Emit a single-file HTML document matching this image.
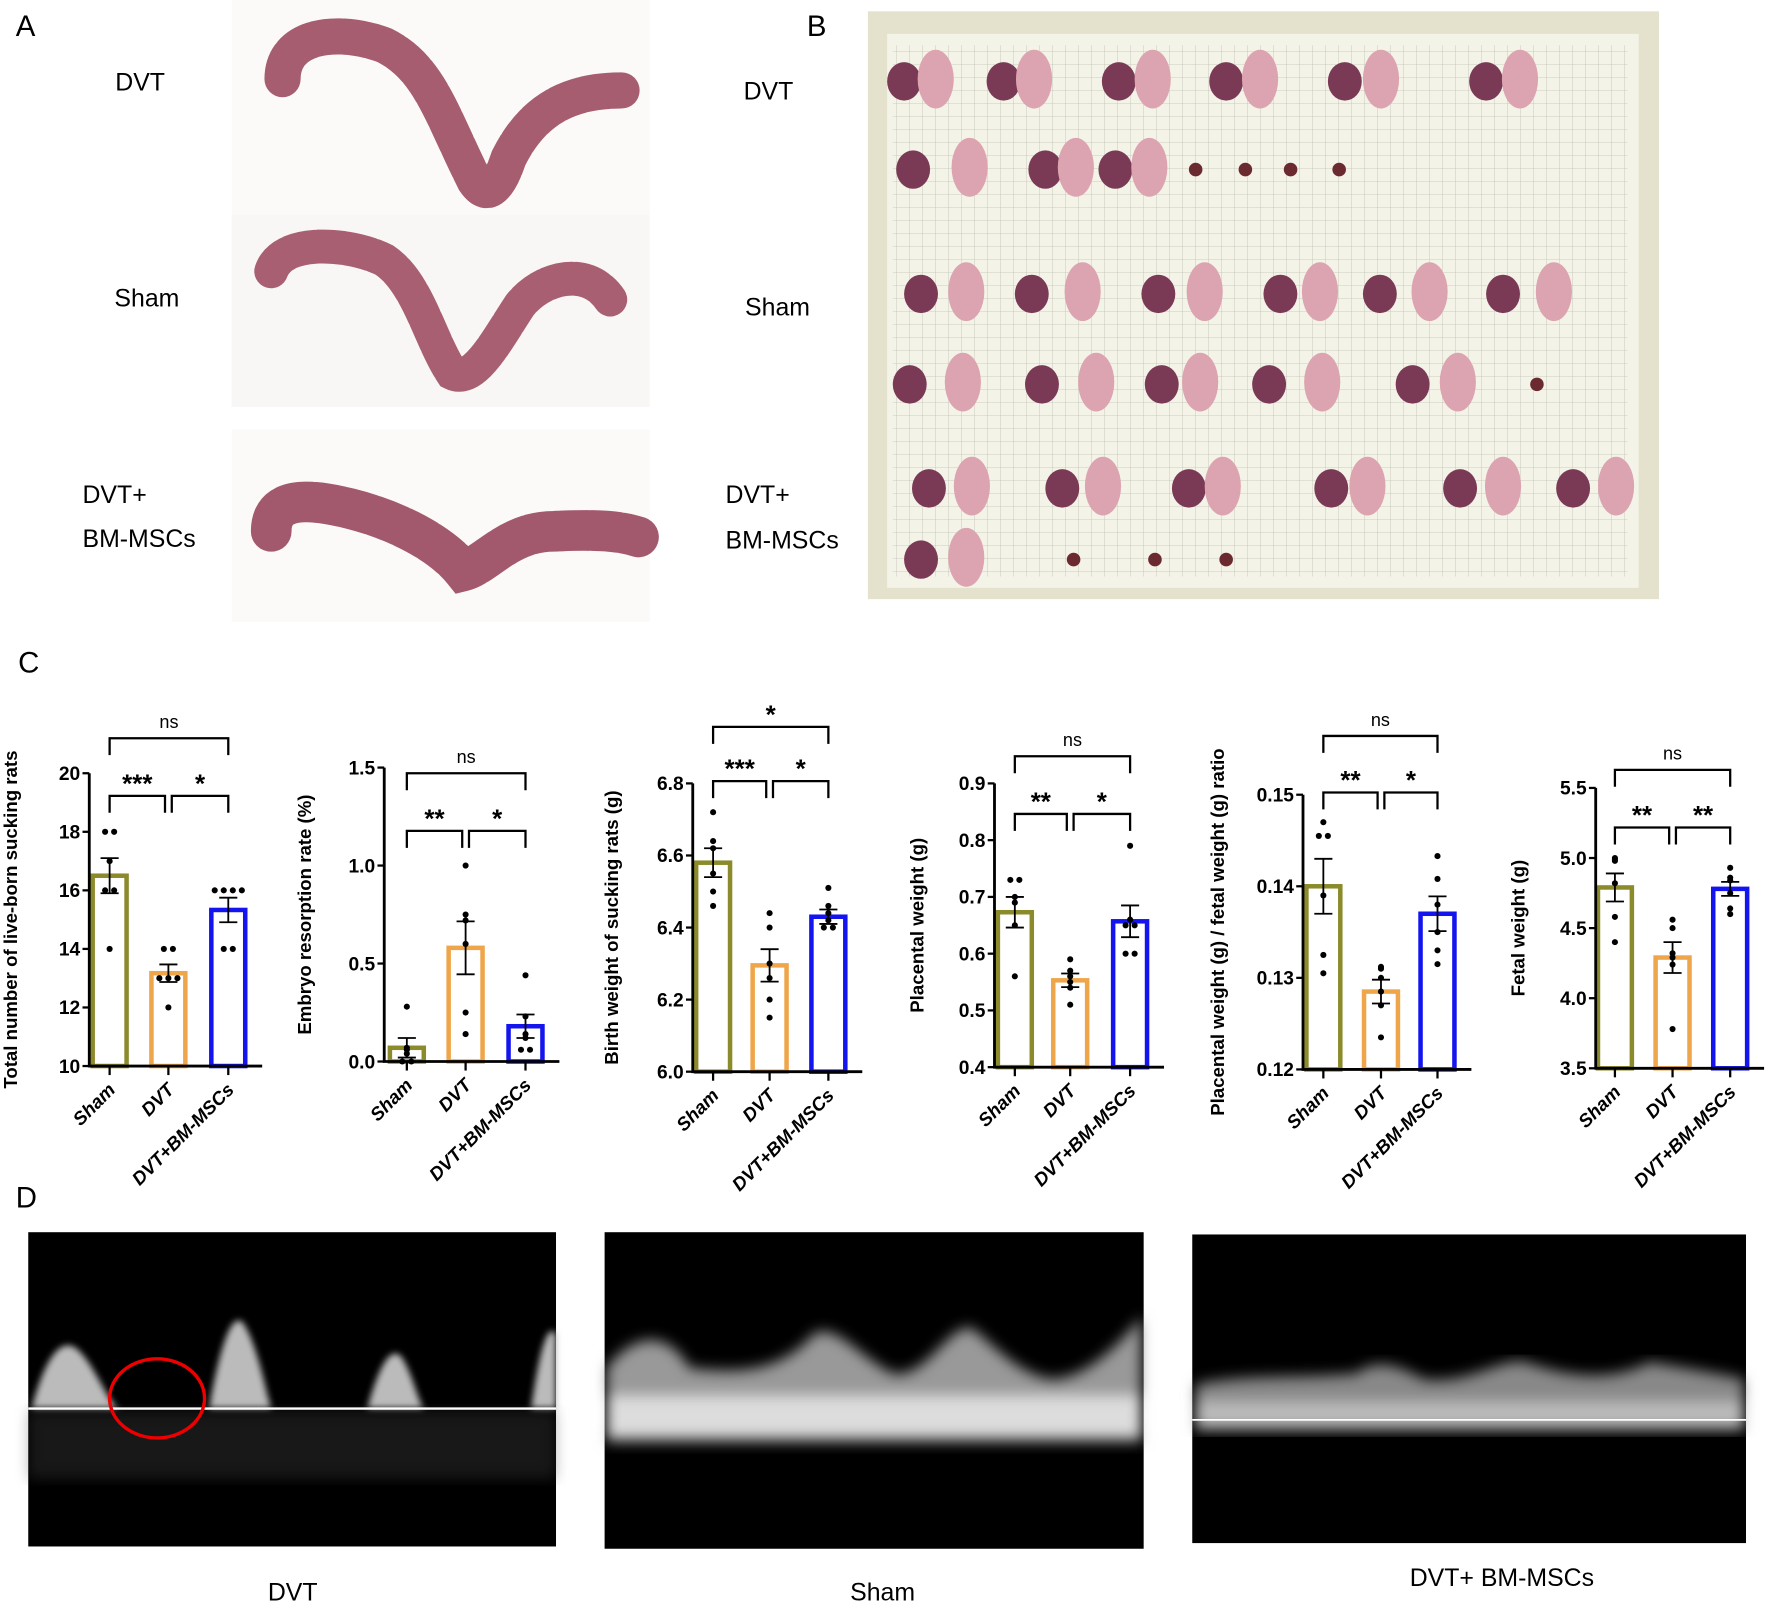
<!DOCTYPE html>
<html><head><meta charset="utf-8">
<style>
html,body{margin:0;padding:0;background:#fff;}
svg{display:block;}
text{font-family:"Liberation Sans",Arial,sans-serif;}
</style></head>
<body>
<svg id="fig" width="1772" height="1603" viewBox="0 0 1568 1418" preserveAspectRatio="none" xmlns="http://www.w3.org/2000/svg">
<defs>
<filter id="blur3"><feGaussianBlur stdDeviation="3"/></filter>
<filter id="blur6"><feGaussianBlur stdDeviation="6"/></filter>
<pattern id="grid" width="11.5" height="11.5" patternUnits="userSpaceOnUse"><path d="M11.5 0V11.5H0" fill="none" stroke="#9a9a90" stroke-width="0.7"/></pattern>
</defs>

<text x="14" y="32" font-size="26">A</text>
<text x="714" y="32" font-size="26">B</text>
<text x="16" y="595" font-size="26">C</text>
<text x="14" y="1068" font-size="26">D</text>

<g>
<rect x="205" y="0" width="370" height="190" fill="#fbfaf9"/>
<rect x="205" y="190" width="370" height="170" fill="#f8f7f6"/>
<rect x="205" y="380" width="370" height="170" fill="#fbfaf9"/>
<path d="M250 70 C250 30 300 25 340 40 C380 60 390 100 420 160 C430 175 440 170 450 140 C470 100 500 80 550 80" fill="none" stroke="#a65d70" stroke-width="32" stroke-linecap="round" stroke-dasharray="22 3"/>
<path d="M240 240 C250 210 310 215 340 230 C370 250 380 300 400 330 C420 340 440 300 460 270 C480 245 520 235 540 265" fill="none" stroke="#a95f72" stroke-width="30" stroke-linecap="round" stroke-dasharray="22 3"/>
<path d="M240 470 C240 440 270 440 310 450 C350 460 390 480 410 505 C430 500 450 470 490 470 C530 468 550 470 565 475" fill="none" stroke="#a3596d" stroke-width="36" stroke-linecap="round" stroke-dasharray="24 3"/>
</g>
<text x="124" y="80" font-size="22" text-anchor="middle">DVT</text>
<text x="130" y="271" font-size="22" text-anchor="middle">Sham</text>
<text x="73" y="445" font-size="22">DVT+</text>
<text x="73" y="484" font-size="22">BM-MSCs</text>

<g>
<rect x="768" y="10" width="700" height="520" fill="#e4e2cc"/>
<rect x="785" y="30" width="665" height="490" fill="#f4f3e8"/>
<rect x="790" y="40" width="650" height="470" fill="url(#grid)" opacity="0.6"/>
<g id="blobs"></g>
</g>
<text x="680" y="88" font-size="22" text-anchor="middle">DVT</text>
<text x="688" y="279" font-size="22" text-anchor="middle">Sham</text>
<text x="642" y="445" font-size="22">DVT+</text>
<text x="642" y="485" font-size="22">BM-MSCs</text>

<g id="charts"></g>

<g>
<rect x="25" y="1090" width="467" height="278" fill="#000"/>
<g filter="url(#blur3)" fill="#bbb">
<path d="M28 1246 C40 1200 55 1180 70 1195 C85 1210 95 1240 105 1246Z"/>
<path d="M185 1246 C195 1190 205 1160 215 1170 C228 1190 235 1230 240 1246Z"/>
<path d="M325 1246 C335 1210 345 1190 355 1200 C365 1215 370 1240 375 1246Z"/>
<path d="M470 1246 C478 1190 485 1170 492 1180 L492 1246Z"/>
</g>
<rect x="25" y="1248" width="467" height="60" fill="#444" opacity="0.35" filter="url(#blur6)"/>
<line x1="25" y1="1246" x2="492" y2="1246" stroke="#fff" stroke-width="2"/>
<ellipse cx="139" cy="1237" rx="42" ry="35" fill="none" stroke="#e00" stroke-width="3"/>
<rect x="535" y="1090" width="477" height="280" fill="#000"/>
<g filter="url(#blur6)">
<path d="M537 1275 L537 1210 C560 1180 590 1175 610 1210 C650 1215 690 1215 720 1180 C740 1170 760 1200 790 1215 C820 1220 840 1170 860 1175 C880 1190 900 1215 930 1220 C960 1220 990 1190 1010 1165 L1010 1275Z" fill="#999"/>
<rect x="537" y="1235" width="473" height="35" fill="#ddd"/>
</g>
<rect x="1055" y="1092" width="490" height="273" fill="#000"/>
<g filter="url(#blur6)">
<path d="M1058 1265 L1058 1225 C1100 1215 1150 1220 1200 1215 C1220 1200 1240 1210 1260 1220 C1300 1225 1330 1200 1350 1205 C1380 1215 1420 1225 1460 1205 C1490 1210 1520 1215 1543 1220 L1543 1265Z" fill="#888"/>
<rect x="1058" y="1240" width="485" height="22" fill="#bbb"/>
</g>
<line x1="1055" y1="1256" x2="1545" y2="1256" stroke="#fff" stroke-width="1.5"/>
</g>
<text x="259" y="1416" font-size="22" text-anchor="middle">DVT</text>
<text x="781" y="1416" font-size="22" text-anchor="middle">Sham</text>
<text x="1329" y="1403" font-size="22" text-anchor="middle">DVT+ BM-MSCs</text>
</svg>

<script>
const categories = ["Sham", "DVT", "DVT+BM-MSCs"];
const liveBornMeans = [16.5, 13.17, 15.33];
const liveBornSems = [0.6, 0.3, 0.42];
const liveBornPoints = [[18,18,17,16,16,14],[14,14,13,13,13,12],[16,16,16,16,14,14]];
const resorptionMeans = [0.07, 0.58, 0.18];
const resorptionSems = [0.05, 0.135, 0.06];
const resorptionPoints = [[0.28,0.07,0.06,0.04,0.0,0.0],[1.0,0.75,0.72,0.6,0.25,0.14],[0.44,0.23,0.14,0.12,0.06,0.06]];
const birthMeans = [6.58, 6.295, 6.43];
const birthSems = [0.04, 0.045, 0.02];
const birthPoints = [[6.72,6.64,6.62,6.55,6.5,6.46],[6.44,6.40,6.30,6.26,6.20,6.15],[6.51,6.46,6.44,6.42,6.40,6.40]];
const placentalMeans = [0.673, 0.553, 0.657];
const placentalSems = [0.027, 0.012, 0.028];
const placentalPoints = [[0.73,0.73,0.70,0.69,0.65,0.56],[0.59,0.57,0.56,0.55,0.54,0.51],[0.79,0.66,0.65,0.65,0.60,0.60]];
const ratioMeans = [0.140, 0.1285, 0.137];
const ratioSems = [0.003, 0.0013, 0.0019];
const ratioPoints = [[0.147,0.1455,0.139,0.1325,0.1305,0.1455],[0.131,0.1312,0.130,0.1285,0.127,0.1235],[0.1433,0.1408,0.138,0.135,0.133,0.1315]];
const fetalMeans = [4.79, 4.29, 4.78];
const fetalSems = [0.1, 0.11, 0.05];
const fetalPoints = [[5.0,4.98,4.99,4.82,4.58,4.40],[4.56,4.50,4.32,4.29,4.24,3.78],[4.93,4.86,4.84,4.75,4.64,4.60]];
const liveBornTicks = [10,12,14,16,18,20];
const resorptionTicks = [0.0,0.5,1.0,1.5];
const birthTicks = [6.0,6.2,6.4,6.6,6.8];
const placentalTicks = [0.4,0.5,0.6,0.7,0.8,0.9];
const ratioTicks = [0.12,0.13,0.14,0.15];
const fetalTicks = [3.5,4.0,4.5,5.0,5.5];
const liveBornSig = ["***","*","ns"];
const resorptionSig = ["**","*","ns"];
const birthSig = ["***","*","*"];
const placentalSig = ["**","*","ns"];
const ratioSig = ["**","*","ns"];
const fetalSig = ["**","**","ns"];

const colors = ["#8c8b2b", "#efa64a", "#1414ee"];
const panels = [
 {name:"live-born", title:"Total number of live-born sucking rats", means:liveBornMeans, sems:liveBornSems, pts:liveBornPoints, ticks:liveBornTicks, dec:0, sig:liveBornSig,
  ax:79, top:684, bot:943, cx:[97,149,202], bTop:653, bLow:704, titleX:15},
 {name:"resorption", title:"Embryo resorption rate (%)", means:resorptionMeans, sems:resorptionSems, pts:resorptionPoints, ticks:resorptionTicks, dec:1, sig:resorptionSig,
  ax:340, top:679, bot:939, cx:[360,412,465], bTop:684, bLow:735, titleX:275},
 {name:"birth-weight", title:"Birth weight of sucking rats (g)", means:birthMeans, sems:birthSems, pts:birthPoints, ticks:birthTicks, dec:1, sig:birthSig,
  ax:613, top:693, bot:948, cx:[631,681,733], bTop:643, bLow:691, titleX:547},
 {name:"placental-weight", title:"Placental weight (g)", means:placentalMeans, sems:placentalSems, pts:placentalPoints, ticks:placentalTicks, dec:1, sig:placentalSig,
  ax:880, top:693, bot:944, cx:[898,947,1000], bTop:669, bLow:720, titleX:817},
 {name:"ratio", title:"Placental weight (g) / fetal weight (g) ratio", means:ratioMeans, sems:ratioSems, pts:ratioPoints, ticks:ratioTicks, dec:2, sig:ratioSig,
  ax:1153, top:703, bot:946, cx:[1171,1222,1272], bTop:651, bLow:701, titleX:1083},
 {name:"fetal-weight", title:"Fetal weight (g)", means:fetalMeans, sems:fetalSems, pts:fetalPoints, ticks:fetalTicks, dec:1, sig:fetalSig,
  ax:1412, top:697, bot:945, cx:[1429,1480,1531], bTop:681, bLow:732, titleX:1349}
];
const NS = "http://www.w3.org/2000/svg";
function mk(tag, attrs, parent){const e=document.createElementNS(NS,tag);for(const k in attrs)e.setAttribute(k,attrs[k]);parent.appendChild(e);return e;}
const root = document.getElementById("charts");

panels.forEach(p=>{
  const g = mk("g",{},root);
  
  
  const lo = p.ticks[0], hi = p.ticks[p.ticks.length-1];
  const y = v => p.bot - (v-lo)/(hi-lo)*(p.bot-p.top);
  const bw = 30;
  p.means.forEach((m,i)=>{
    const r = mk("rect",{x:p.cx[i]-bw/2, y:y(m), width:bw, height:p.bot-y(m), fill:"#fff", stroke:colors[i], "stroke-width":4},g);
    
    
  });
  p.pts.forEach((arr,i)=>{
    const counts = {};
    arr.forEach(v=>{const k = v.toFixed(4); counts[k]=(counts[k]||0)+1;});
    const seen = {};
    arr.forEach(v=>{
      const k=v.toFixed(4); const n=counts[k]; const j=seen[k]=(seen[k]||0)+1;
      const off = (j-(n+1)/2)*8;
      const c = mk("circle",{cx:p.cx[i]+off, cy:y(v), r:2.7, fill:"#000"},g);
      
      
    });
    const m=p.means[i], s=p.sems[i];
    const e = mk("path",{d:`M${p.cx[i]} ${y(m+s)}V${y(m-s)}M${p.cx[i]-8} ${y(m+s)}H${p.cx[i]+8}M${p.cx[i]-8} ${y(m-s)}H${p.cx[i]+8}`, stroke:"#000", "stroke-width":1.6, fill:"none"},g);
    
    
  });
  const axl = mk("path",{d:`M${p.ax} ${p.top}V${p.bot}H${p.cx[2]+30}`, stroke:"#000", "stroke-width":2.5, fill:"none"},g);
  
  
  p.ticks.forEach(t=>{
    mk("line",{x1:p.ax-6,x2:p.ax,y1:y(t),y2:y(t),stroke:"#000","stroke-width":2},g);
    const tl = mk("text",{x:p.ax-8,y:y(t)+6,"font-size":17,"font-weight":"bold","text-anchor":"end"},g);
    tl.textContent = t.toFixed(p.dec);
    
    
  });
  categories.forEach((c,i)=>{
    mk("line",{x1:p.cx[i],x2:p.cx[i],y1:p.bot,y2:p.bot+8,stroke:"#000","stroke-width":2},g);
    const tx = mk("text",{x:p.cx[i]+6,y:p.bot+22,"font-size":16.5,"font-weight":"bold","font-style":"italic","text-anchor":"end",transform:`rotate(-45 ${p.cx[i]+6} ${p.bot+22})`},g);
    tx.textContent = c;
    
    
  });
  const cy = (p.top+p.bot)/2;
  const yt = mk("text",{x:p.titleX,y:cy,"font-size":16.5,"font-weight":"bold","text-anchor":"middle",transform:`rotate(-90 ${p.titleX} ${cy})`},g);
  yt.textContent = p.title;
  
  
  const br = (x1,x2,yy,label)=>{
    const b = mk("path",{d:`M${x1} ${yy+15}V${yy}H${x2}V${yy+15}`,stroke:"#000","stroke-width":2,fill:"none"},g);
    
    
    const ns = label==="ns";
    const t = mk("text",{x:(x1+x2)/2,y:ns?yy-9:yy-3,"font-size":ns?16:23,"font-weight":ns?"normal":"bold","text-anchor":"middle"},g);
    t.textContent = label;
    
    
  };
  br(p.cx[0], p.cx[1]-3, p.bLow, p.sig[0]);
  br(p.cx[1]+3, p.cx[2], p.bLow, p.sig[1]);
  br(p.cx[0], p.cx[2], p.bTop, p.sig[2]);
});

const blobRows = [
 [72,[[800,0],[828,1],[888,0],[915,1],[990,0],[1020,1],[1085,0],[1115,1],[1190,0],[1222,1],[1315,0],[1345,1]]],
 [150,[[808,0],[858,1],[925,0],[952,1],[987,0],[1017,1],[1058,2],[1102,2],[1142,2],[1185,2]]],
 [260,[[815,0],[855,1],[913,0],[958,1],[1025,0],[1066,1],[1133,0],[1168,1],[1221,0],[1265,1],[1330,0],[1375,1]]],
 [340,[[805,0],[852,1],[922,0],[970,1],[1028,0],[1062,1],[1123,0],[1170,1],[1250,0],[1290,1],[1360,2]]],
 [432,[[822,0],[860,1],[940,0],[976,1],[1052,0],[1082,1],[1178,0],[1210,1],[1292,0],[1330,1],[1392,0],[1430,1]]],
 [495,[[815,0],[855,1],[950,2],[1022,2],[1085,2]]]
];
const blobG = document.getElementById("blobs");
blobRows.forEach(([yy,items])=>items.forEach(([x,t])=>{
  if(t===0) mk("ellipse",{cx:x,cy:yy,rx:15,ry:17,fill:"#7a3a55"},blobG);
  else if(t===1) mk("ellipse",{cx:x,cy:yy-2,rx:16,ry:26,fill:"#dca4b0"},blobG);
  else mk("circle",{cx:x,cy:yy,r:6,fill:"#6a2a30"},blobG);
}));
</script>
</body></html>
